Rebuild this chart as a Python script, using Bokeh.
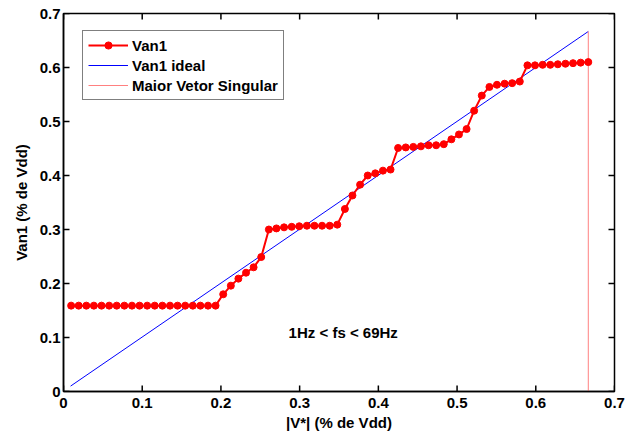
from bokeh.plotting import figure
from bokeh.models import Range1d, FixedTicker, Legend, LegendItem, Label
from bokeh.embed import file_html
from bokeh.resources import INLINE

# ---- data ----
van1_x = [0.0097, 0.0193, 0.0290, 0.0386, 0.0483, 0.0580, 0.0676, 0.0773, 0.0870, 0.0966,
          0.1063, 0.1159, 0.1256, 0.1353, 0.1449, 0.1546, 0.1643, 0.1739, 0.1836, 0.1932,
          0.2029, 0.2126, 0.2222, 0.2319, 0.2415, 0.2512, 0.2609, 0.2705, 0.2802, 0.2899,
          0.2995, 0.3092, 0.3188, 0.3285, 0.3382, 0.3478, 0.3575, 0.3671, 0.3768, 0.3865,
          0.3961, 0.4058, 0.4155, 0.4251, 0.4348, 0.4444, 0.4541, 0.4638, 0.4734, 0.4831,
          0.4928, 0.5024, 0.5121, 0.5217, 0.5314, 0.5411, 0.5507, 0.5604, 0.5700, 0.5797,
          0.5894, 0.5990, 0.6087, 0.6184, 0.6280, 0.6377, 0.6473, 0.6570, 0.6667]
van1_y = [0.159, 0.159, 0.159, 0.159, 0.159, 0.159, 0.159, 0.159, 0.159, 0.159,
          0.159, 0.159, 0.159, 0.159, 0.159, 0.159, 0.159, 0.159, 0.159, 0.159,
          0.180, 0.196, 0.209, 0.220, 0.230, 0.249, 0.300, 0.302, 0.304, 0.305,
          0.306, 0.307, 0.307, 0.307, 0.307, 0.309, 0.338, 0.363, 0.383, 0.400,
          0.404, 0.409, 0.411, 0.451, 0.452, 0.453, 0.454, 0.456, 0.456, 0.458,
          0.467, 0.476, 0.486, 0.520, 0.548, 0.564, 0.568, 0.570, 0.571, 0.574,
          0.604, 0.604, 0.605, 0.605, 0.606, 0.607, 0.608, 0.609, 0.610]
ideal_x = [0.0090, 0.6667]
ideal_y = [0.0100, 0.6667]
vline_x = [0.6667, 0.6667]
vline_y = [0.0, 0.6667]

ticks = [0, 0.1, 0.2, 0.3, 0.4, 0.5, 0.6, 0.7]
tick_labels = ["0", "0.1", "0.2", "0.3", "0.4", "0.5", "0.6", "0.7"]

legend_names = ["Van1", "Van1 ideal", "Maior Vetor Singular"]
annotation = "1Hz < fs < 69Hz"
x_title = "|V*| (% de Vdd)"
y_title = "Van1 (% de Vdd)"

FONT = "Liberation Sans"
FS = "15px"
X0, X1, Y0, Y1 = 0.0, 0.7, 0.0, 0.7
W, H = 635, 435
BL, BR, BT, BB = 63, 21, 13, 44
TICK_PX = 6

p = figure(width=W, height=H, output_backend="svg", toolbar_location=None,
           x_range=Range1d(X0, X1), y_range=Range1d(Y0, Y1),
           min_border_left=BL, min_border_right=BR, min_border_top=BT, min_border_bottom=BB)
p.grid.visible = False
p.outline_line_color = "black"
p.outline_line_width = 1.5
p.background_fill_color = "white"
p.border_fill_color = "white"

overrides = {t: l for t, l in zip(ticks, tick_labels)}

for ax in (p.xaxis[0], p.yaxis[0]):
    ax.ticker = FixedTicker(ticks=ticks)
    ax.major_label_overrides = overrides
    ax.major_tick_in = 0
    ax.major_tick_out = 0
    ax.minor_tick_in = 0
    ax.minor_tick_out = 0
    ax.axis_line_width = 1.5
    ax.major_label_text_font = FONT
    ax.major_label_text_font_style = "bold"
    ax.major_label_text_font_size = FS
    ax.major_label_text_color = "black"
    ax.axis_label_text_font = FONT
    ax.axis_label_text_font_style = "bold"
    ax.axis_label_text_font_size = FS
    ax.axis_label_text_color = "black"

p.xaxis[0].axis_label = x_title
p.xaxis[0].major_label_standoff = 6
p.xaxis[0].axis_label_standoff = 3
p.yaxis[0].axis_label = y_title
p.yaxis[0].major_label_standoff = 3
p.yaxis[0].axis_label_standoff = 7

# inward tick marks on all four sides of the box (length TICK_PX pixels)
dx = TICK_PX * (X1 - X0) / (W - BL - BR)
dy = TICK_PX * (Y1 - Y0) / (H - BT - BB)
n = len(ticks)
tick_style = dict(line_color="black", line_width=1.5)
p.segment(x0=ticks, y0=[Y0] * n, x1=ticks, y1=[Y0 + dy] * n, **tick_style)
p.segment(x0=ticks, y0=[Y1] * n, x1=ticks, y1=[Y1 - dy] * n, **tick_style)
p.segment(x0=[X0] * n, y0=ticks, x1=[X0 + dx] * n, y1=ticks, **tick_style)
p.segment(x0=[X1] * n, y0=ticks, x1=[X1 - dx] * n, y1=ticks, **tick_style)

r_ideal = p.line(ideal_x, ideal_y, line_color="#0000ff", line_width=1)
r_vline = p.line(vline_x, vline_y, line_color="#ff8080", line_width=1)
r_van1_line = p.line(van1_x, van1_y, line_color="#ff0000", line_width=2)
r_van1_pts = p.scatter(van1_x, van1_y, size=7, fill_color="#ff0000", line_color="#ff0000")

legend = Legend(items=[
    LegendItem(label=legend_names[0], renderers=[r_van1_line, r_van1_pts]),
    LegendItem(label=legend_names[1], renderers=[r_ideal]),
    LegendItem(label=legend_names[2], renderers=[r_vline]),
], location=(19, 291))
legend.border_line_color = "black"
legend.border_line_width = 1.5
legend.label_text_font = FONT
legend.label_text_font_style = "bold"
legend.label_text_font_size = FS
legend.label_text_color = "black"
legend.glyph_width = 40
legend.glyph_height = 18
legend.label_height = 18
legend.label_standoff = 4
legend.spacing = 2
legend.padding = 5
legend.margin = 0
legend.background_fill_alpha = 1
p.add_layout(legend)

p.add_layout(Label(x=0.286, y=0.109, text=annotation, text_baseline="middle",
                   text_font=FONT, text_font_style="bold", text_font_size=FS,
                   text_color="black"))

open("out.html", "w").write(file_html(p, INLINE))
